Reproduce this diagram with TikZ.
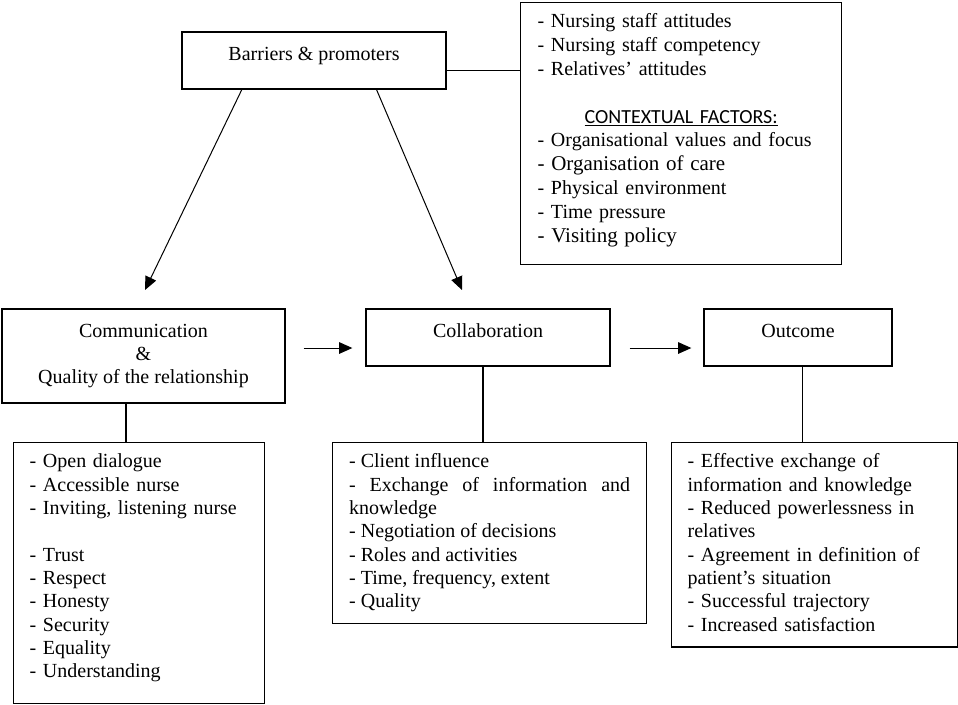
\documentclass[tikz,border=0pt]{standalone}
\usepackage{fontspec}
\setmainfont{Liberation Serif}
\newfontfamily\calfont{Carlito}
\usetikzlibrary{arrows.meta}

\begin{document}
\begin{tikzpicture}[x=.6pt,y=-.6pt,
    every node/.style={font=\fontsize{12pt}{14pt}\selectfont},
    box/.style={draw,line width=.8pt},
    headbox/.style={box,minimum height=34.2pt,text height=8pt,text depth=8.6pt},
    listbox/.style={box,anchor=north west,inner ysep=0pt,text height=15pt,align=left},
    link/.style={line width=.7pt},
    arr/.style={line width=.6pt,-{Triangle[length=8pt,width=7pt]}}]
  \useasboundingbox (0,0) rectangle (958,704);

  % top row
  \node[headbox,minimum width=158.4pt] (barriers) at (314,60.5) {Barriers \& promoters};
  \node[listbox,inner xsep=10.2pt,text width=172.2pt,text depth=142.2pt,
        font=\fontsize{12pt}{14.3pt}\selectfont] (factors) at (520,2) {%
    - Nursing staff attitudes\\
    - Nursing staff competency\\
    - Relatives’ attitudes\\[14.3pt]
    \makebox[\linewidth]{\calfont\underline{CONTEXTUAL FACTORS:}}\\
    - Organisational values and focus\\
    {\fontsize{12.6pt}{14.3pt}\selectfont - Organisation of care}\\
    - Physical environment\\
    - Time pressure\\
    {\fontsize{12.6pt}{14.3pt}\selectfont - Visiting policy}};

  % middle row
  \node[box,minimum width=169.8pt,minimum height=56.4pt,align=center] (comm) at (143.5,356)
    {Communication\\\&\\Quality of the relationship};
  \node[headbox,minimum width=146.4pt] (collab) at (488,337.5) {Collaboration};
  \node[headbox,minimum width=112.8pt] (outcome) at (798,337.5) {Outcome};

  % bottom row
  \node[listbox,inner xsep=9.6pt,text width=131.4pt,text depth=141.6pt] (list1) at (13,442) {%
    - Open dialogue\\
    - Accessible nurse\\
    - Inviting, listening nurse\\[14pt]
    - Trust\\
    - Respect\\
    - Honesty\\
    - Security\\
    - Equality\\
    - Understanding};
  \node[listbox,inner xsep=9.9pt,text width=168.6pt,text depth=93.6pt,align=justify] (list2) at (332,442) {%
    - Client influence\\
    - Exchange of information and knowledge\\
    - Negotiation of decisions\\
    - Roles and activities\\
    - Time, frequency, extent\\
    - Quality};
  \node[listbox,inner xsep=9.6pt,text width=152.4pt,text depth=107.6pt] (list3) at (671,442) {%
    - Effective exchange of\\
    information and knowledge\\
    - Reduced powerlessness in\\
    relatives\\
    - Agreement in definition of\\
    patient’s situation\\
    - Successful trajectory\\
    - Increased satisfaction};

  % connectors
  \coordinate (toComm) at (145,290);
  \coordinate (toCollab) at (462,290);
  \coordinate (flow) at (0,348);
  \draw[arr] (barriers.202) -- (toComm);
  \draw[arr] (barriers.335) -- (toCollab);
  \draw[arr,shorten <=10.8pt,shorten >=7.8pt] (comm.east |- flow) -- (collab.west |- flow);
  \draw[arr,shorten <=11.4pt,shorten >=7.2pt] (collab.east |- flow) -- (outcome.west |- flow);
  \draw[link] (barriers.east) ++(0,10) coordinate (b1) -- (b1 -| factors.west);
  \draw[link] (comm.south) ++(-17.5,0) coordinate (c1) -- (c1 |- list1.north);
  \draw[link] (collab.south) ++(-5,0) coordinate (c2) -- (c2 |- list2.north);
  \draw[link] (outcome.south) ++(4.5,0) coordinate (c3) -- (c3 |- list3.north);
\end{tikzpicture}
\end{document}
